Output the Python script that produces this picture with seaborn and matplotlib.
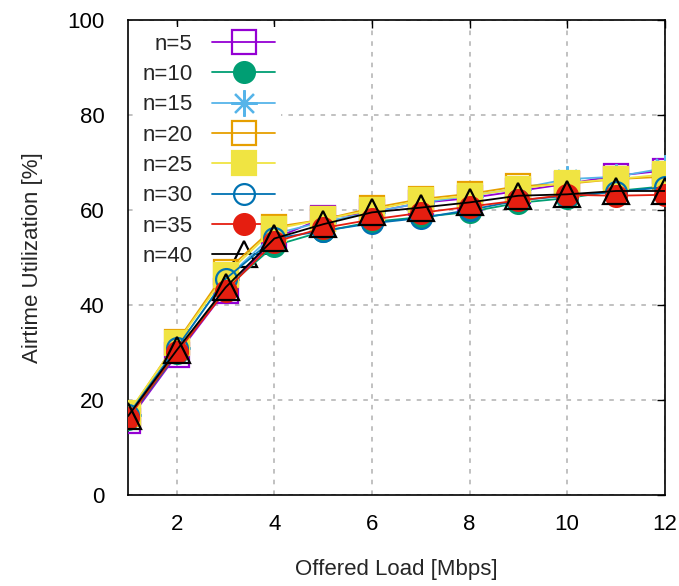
import matplotlib
matplotlib.use("Agg")
import matplotlib.pyplot as plt
import seaborn as sns

# Offered load (Mbps) on the x axis
load = [1, 2, 3, 4, 5, 6, 7, 8, 9, 10, 11, 12]

# Airtime utilization (%) for each number of stations
n5 = [15.5, 29.5, 43.0, 54.0, 58.3, 59.5, 61.5, 62.5, 64.0, 65.5, 67.2, 68.3]
n10 = [16.0, 29.8, 43.5, 52.5, 55.5, 57.5, 58.5, 59.6, 61.5, 62.5, 64.0, 65.0]
n15 = [16.8, 31.0, 45.5, 55.0, 57.5, 59.5, 61.5, 63.0, 64.5, 66.5, 67.0, 68.8]
n20 = [17.0, 32.2, 47.0, 56.4, 58.0, 60.4, 62.3, 63.4, 65.0, 65.5, 66.5, 67.0]
n25 = [17.2, 32.0, 46.3, 56.0, 58.0, 60.0, 62.0, 63.0, 64.5, 65.7, 66.5, 67.5]
n30 = [16.8, 31.0, 45.5, 54.0, 55.6, 57.2, 58.3, 60.0, 62.0, 63.0, 63.8, 64.8]
n35 = [16.2, 30.0, 43.0, 53.3, 56.2, 58.0, 59.4, 60.7, 62.0, 63.2, 63.0, 63.2]
n40 = [16.6, 30.5, 43.7, 54.0, 57.0, 59.5, 60.5, 61.6, 63.0, 63.3, 64.0, 64.0]

labels = ["n=5", "n=10", "n=15", "n=20", "n=25", "n=30", "n=35", "n=40"]
series = [n5, n10, n15, n20, n25, n30, n35, n40]

colors = ["#9400D3", "#009E73", "#56B4E9", "#E69F00",
          "#F0E442", "#0072B2", "#E51E10", "#000000"]
# (marker, filled, size)
styles = [("s", False, 17), ("o", True, 15), ((8, 2, 0), False, 19),
          ("s", False, 17), ("s", True, 17), ("o", False, 15),
          ("o", True, 15), ("^", False, 19)]

sns.set_style("white")
plt.rcParams["font.family"] = ["Liberation Sans", "DejaVu Sans"]
plt.rcParams["font.size"] = 16

fig = plt.figure(figsize=(6.79, 5.86), dpi=100)
ax = fig.add_axes([0.1885, 0.1553, 0.7905, 0.8106])

for lab, ys, col, (mk, filled, ms) in zip(labels, series, colors, styles):
    sns.lineplot(x=load, y=ys, ax=ax, color=col, linewidth=1.3,
                 marker=mk, markersize=ms, markeredgewidth=1.6,
                 markerfacecolor=col if filled else "none",
                 markeredgecolor=col, label=lab, zorder=3)

ax.set_xlim(1, 12)
ax.set_ylim(0, 100)
ax.set_xticks([2, 4, 6, 8, 10, 12])
ax.set_yticks([0, 20, 40, 60, 80, 100])
ax.tick_params(direction="in", length=6, width=1, top=True, right=True,
               labelsize=16, colors="black")
ax.tick_params(axis="y", pad=17)
ax.tick_params(axis="x", pad=14)
for sp in ax.spines.values():
    sp.set_color("black")
    sp.set_linewidth(1.2)

ax.set_axisbelow(True)
ax.grid(True, color="#b0b0b0", linestyle=(0, (3, 4)), linewidth=1.1)

ax.set_xlabel("Offered Load [Mbps]", fontsize=16)
ax.set_ylabel("Airtime Utilization [%]", fontsize=16)
ax.xaxis.set_label_coords(0.5, -0.135)
ax.yaxis.set_label_coords(-0.158, 0.5)

leg = ax.legend(loc="upper left", bbox_to_anchor=(0.014, 0.985),
                borderaxespad=0, markerfirst=False, frameon=True,
                fancybox=False, framealpha=1, facecolor="white",
                edgecolor="none", handlelength=2.8, handletextpad=0.9,
                labelspacing=0.42, borderpad=0.3, fontsize=16)
leg.set_zorder(1)

fig.savefig("out.png", dpi=100)
